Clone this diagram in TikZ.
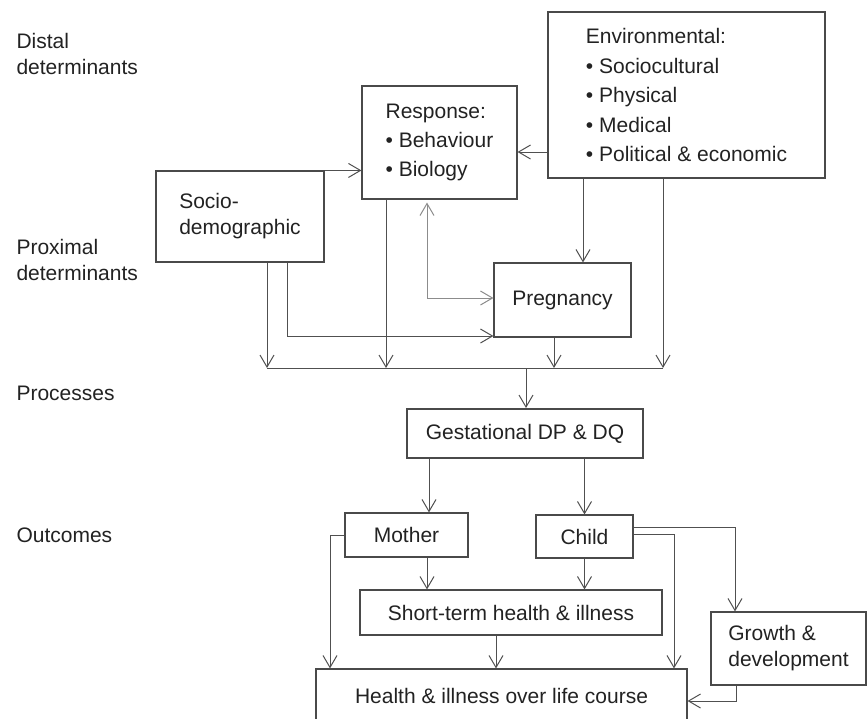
\documentclass[tikz,border=0pt]{standalone}
\usepackage{fontspec}
\setmainfont{Liberation Sans}
\usetikzlibrary{arrows.meta}
\definecolor{inkgray}{HTML}{222222}
\definecolor{framegray}{HTML}{4A4A4A}
\definecolor{linkgray}{HTML}{505050}
\definecolor{softgray}{HTML}{8C8C8C}
\tikzset{
  box/.style={draw=framegray, line width=1.1pt, inner sep=0pt, align=left, text=inkgray},
  level/.style={anchor=base west, align=left, text=inkgray},
  link/.style={draw=linkgray, line width=1pt},
}
\begin{document}
\begin{tikzpicture}[x=1pt, y=-1pt, >={Straight Barb[length=12pt,width=14pt]}, font=\fontsize{21}{26}\selectfont]
	\useasboundingbox (0,0) rectangle (867,718);
	\node[level] (distal) at (13,74) {Distal\\determinants};
	\node[level] (proximal) at (13,280) {Proximal\\determinants};
	\node[level] (processes) at (13,400) {Processes};
	\node[level] (outcomes) at (13,542) {Outcomes};
	\node[box, minimum width=277, minimum height=166, font=\fontsize{21}{29.5}\selectfont] (env) at (686.5,95) {Environmental:\\• Sociocultural\\• Physical\\• Medical\\• Political \& economic};
	\node[box, minimum width=155, minimum height=113, font=\fontsize{21}{29}\selectfont] (resp) at (439.5,142.5) {Response:\\• Behaviour\\• Biology};
	\node[box, minimum width=168, minimum height=91] (socio) at (240,216.5) {Socio-\\demographic};
	\node[box, minimum width=137, minimum height=74] (preg) at (562.5,300) {Pregnancy};
	\node[box, line width=2pt, minimum width=236, minimum height=49] (gest) at (525,433.5) {Gestational DP \& DQ};
	\node[box, minimum width=123, minimum height=44] (mother) at (406.5,535) {Mother};
	\node[box, minimum width=97, minimum height=43] (child) at (584.5,536.5) {Child};
	\node[box, minimum width=302, minimum height=45] (short) at (511,612.5) {Short-term health \& illness};
	\node[box, minimum width=155, minimum height=73] (growth) at (788.5,648.5) {Growth \&\\development};
	\node[box, minimum width=371, minimum height=54] (health) at (501.5,696) {Health \& illness over life course};
	\coordinate (busW) at (267,368);
	\coordinate (busE) at (663,368);
	\coordinate (busM) at (526,368);
	\draw[link,->] (socio.north east) -- (socio.north east -| resp.west);
	\draw[link,->] (env.west |- 0,152) -- (resp.east |- 0,152);
	\draw[link,->] (socio.south -| busW) -- (busW);
	\draw[link,->] (socio.south -| 287,0) |- (preg.west |- 0,336);
	\draw[link,->] (resp.south -| 386,0) -- (busW -| 386,0);
	\draw[link,draw=softgray,<->,shorten <=3pt] (resp.south -| 427,0) |- (preg.west |- 0,298);
	\draw[link,->] (env.south -| 583,0) -- (preg.north -| 583,0);
	\draw[link,->] (env.south -| busE) -- (busE);
	\draw[link,->] (preg.south -| 554,0) -- (busW -| 554,0);
	\draw[link] (busW) -- (busE);
	\draw[link,->] (busM) -- (gest.north -| busM);
	\draw[link,->] (gest.south -| 429,0) -- (mother.north -| 429,0);
	\draw[link,->] (gest.south -| child.north) -- (child.north);
	\draw[link,->] (mother.south -| 427,0) -- (short.north -| 427,0);
	\draw[link,->] (child.south) -- (short.north -| child.south);
	\draw[link,->] (mother.west) -| (health.north -| 330,0);
	\draw[link,->] (short.south -| 496,0) -- (health.north -| 496,0);
	\draw[link,->] (child.east |- 0,534) -| (health.north -| 674,0);
	\draw[link,->] (child.east |- 0,527) -| (growth.north -| 735,0);
	\draw[link,->] (growth.south -| 736,0) |- (health.east |- 0,701);
\end{tikzpicture}
\end{document}
